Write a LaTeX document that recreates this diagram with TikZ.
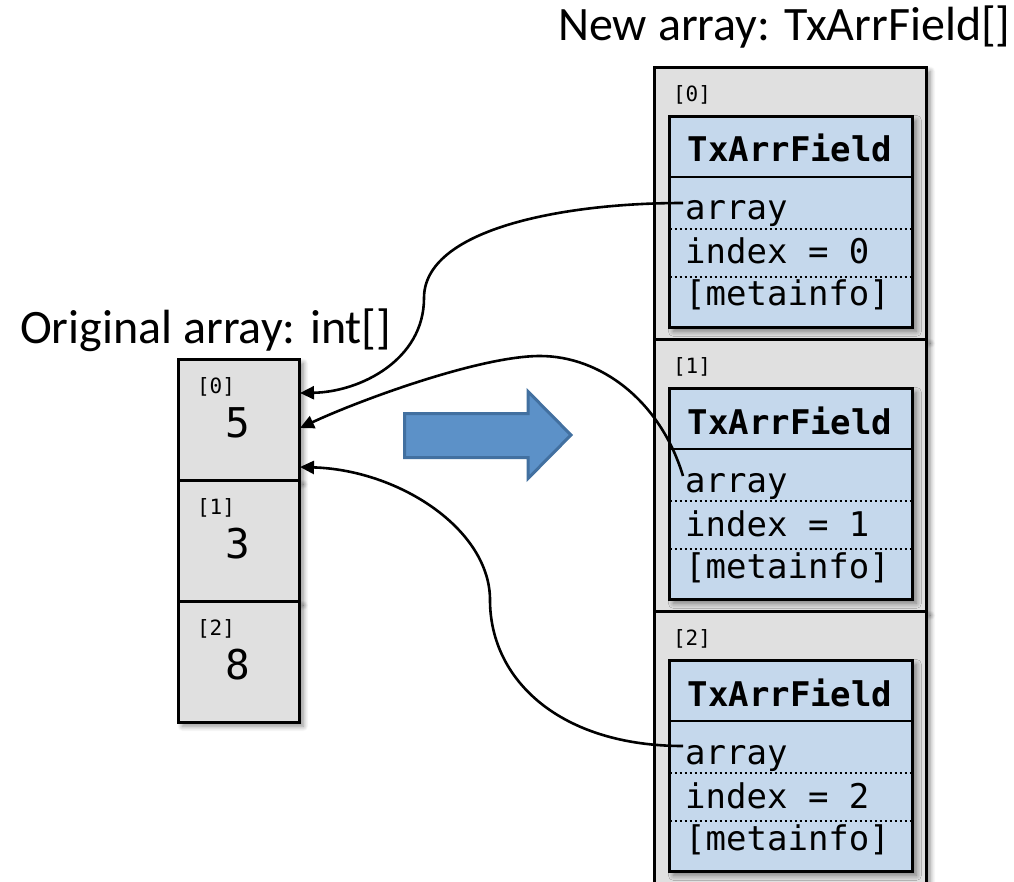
\documentclass[tikz,border=0pt]{standalone}
\usepackage{fontspec}
\setmainfont{Carlito}
\newfontfamily\codefont{DejaVu Sans Mono}
\usetikzlibrary{arrows.meta,shadows.blur,calc}

\definecolor{cellgray}{RGB}{224,224,224}
\definecolor{fieldblue}{RGB}{197,216,236}
\definecolor{bigarrowfill}{RGB}{92,145,200}
\definecolor{bigarrowedge}{RGB}{66,112,160}

\tikzset{
  softshadow/.style={blur shadow={shadow xshift=4pt, shadow yshift=-4pt,
      shadow blur radius=5pt, shadow blur steps=10, shadow opacity=45}},
  cellbox/.style={draw=black, line width=2.6pt, fill=cellgray, softshadow,
      inner sep=0pt, anchor=north west},
  fieldbox/.style={draw=black, line width=2.8pt, fill=fieldblue, softshadow,
      inner sep=0pt, anchor=north west, minimum width=243pt, minimum height=211pt},
  rowsep/.style={line width=2.4pt},
  dotsep/.style={line width=2pt, dash pattern=on 2pt off 3pt},
  titletext/.style={font=\fontsize{48}{52}\selectfont, inner sep=0pt, anchor=base west},
  codetext/.style={font=\codefont\fontsize{34}{38}\selectfont, inner sep=0pt},
  valtext/.style={font=\codefont\fontsize{41}{45}\selectfont, inner sep=0pt},
  idxtext/.style={font=\codefont\fontsize{21}{24}\selectfont, inner sep=0pt},
  conn/.style={line width=2.6pt, -{Triangle[length=14pt,width=13pt]}},
}

\begin{document}
\begin{tikzpicture}[x=1pt, y=-1pt]
\useasboundingbox (0,0) rectangle (1014,882);

% headings
\node[titletext] (oldtitle) at (20,344) {Original array: int[]};
\node[titletext] (newtitle) at (558,41) {New array: TxArrField[]};

% original int[] array
\foreach \k/\v in {0/5,1/3,2/8}{
  \pgfmathsetmacro\top{358+121*\k}
  \node[cellbox, minimum width=121pt, minimum height=121pt] (old\k) at (177,\top) {};
  \node[idxtext] (oldidx\k) at (216,\top+28.5) {[\k]};
  \node[valtext, anchor=base] (oldval\k) at (238,\top+79) {\v};
}

% new TxArrField[] array
\foreach \k in {0,1,2}{
  \pgfmathsetmacro\top{66+272*\k}
  \ifnum\k=2
    \node[cellbox, minimum width=272pt, minimum height=290pt] (new\k) at (653,\top) {};
  \else
    \node[cellbox, minimum width=272pt, minimum height=272pt] (new\k) at (653,\top) {};
  \fi
  \node[idxtext] (newidx\k) at (692,\top+29) {[\k]};
  \node[fieldbox] (fld\k) at (668,\top+49) {};
  \draw[rowsep] ($(fld\k.north west)+(0,62)$) -- ($(fld\k.north east)+(0,62)$);
  \draw[dotsep] ($(fld\k.north west)+(1.5,114)$) -- ($(fld\k.north east)+(-1.5,114)$);
  \draw[dotsep] ($(fld\k.north west)+(1.5,162)$) -- ($(fld\k.north east)+(-1.5,162)$);
  \node[codetext, anchor=base, font=\codefont\bfseries\fontsize{34}{38}\selectfont]
    (cls\k) at (790,\top+96) {TxArrField};
  \node[codetext, anchor=base west] (arr\k) at (685,\top+154) {array};
  \node[codetext, anchor=base west] (ix\k) at (685,\top+198) {index = \k};
  \node[codetext, anchor=base west] (meta\k) at (685,\top+240) {[metainfo]};
}

% conversion arrow
\draw[line width=3pt, draw=bigarrowedge, fill=bigarrowfill, line join=miter]
  (404.5,413.5) -- (528,413.5) -- (528,391.5) -- (571,435) -- (528,478.5)
  -- (528,457.5) -- (404.5,457.5) -- cycle;

% references back to the original array
\coordinate (s0) at (683,203);
\coordinate (s1) at (683,476);
\coordinate (s2) at (683,746);
\coordinate (t0) at (300,393);
\coordinate (t1) at (300,428);
\coordinate (t2) at (300,467);

\draw[conn] (s0) .. controls (560,203) and (424,230) .. (424,298)
  .. controls (424,360) and (360,392) .. (t0);
\draw[conn] (s1) .. controls (660,400) and (600,356) .. (540,356)
  .. controls (480,356) and (360,400) .. (t1);
\draw[conn] (s2) .. controls (560,746) and (490,680) .. (490,600)
  .. controls (490,530) and (400,470) .. (t2);
\end{tikzpicture}
\end{document}
